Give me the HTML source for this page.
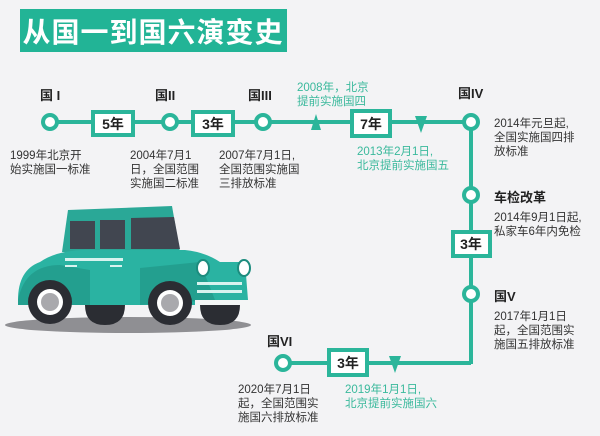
<!DOCTYPE html>
<html><head><meta charset="utf-8"><style>
body{margin:0;background:#f3f3f5;}
svg{display:block}
text{font-family:"Liberation Sans","Noto Sans CJK SC",sans-serif;}
</style></head><body>
<svg width="600" height="436" viewBox="0 0 600 436" xmlns="http://www.w3.org/2000/svg">
<rect width="600" height="436" fill="#f3f3f5"/>
<rect x="20" y="9" width="267" height="43" fill="#22b496"/>
<text x="153" y="42" font-size="28" font-weight="bold" fill="#fff" text-anchor="middle" letter-spacing="1">从国一到国六演变史</text>

<g stroke="#2bb59a" stroke-width="4" fill="none">
<line x1="50" y1="122" x2="471" y2="122"/>
<line x1="471" y1="122" x2="471" y2="364"/>
<line x1="283" y1="363" x2="471" y2="363"/>
</g>
<g stroke="#2bb59a" stroke-width="4" fill="#fff">
<circle cx="50" cy="122" r="7"/><circle cx="170" cy="122" r="7"/><circle cx="263" cy="122" r="7"/><circle cx="471" cy="122" r="7"/>
<circle cx="471" cy="195" r="7"/><circle cx="471" cy="294" r="7"/><circle cx="283" cy="363" r="7"/>
<rect x="93" y="112" width="40" height="23"/>
<rect x="193" y="112" width="40" height="23"/>
<rect x="352" y="111" width="38" height="25"/>
<rect x="453" y="232" width="37" height="24"/>
<rect x="329" y="350" width="38" height="25"/>
</g>
<g font-size="14" font-weight="bold" fill="#222" text-anchor="middle">
<text x="113" y="129">5年</text><text x="213" y="129">3年</text><text x="371" y="129">7年</text>
<text x="471" y="249">3年</text><text x="348" y="368">3年</text>
</g>
<polygon points="316,114 321,130 311,130" fill="#2bb59a"/>
<polygon points="310,121 322,121 316,128" fill="#2bb59a"/>
<polygon points="415,116 427,116 421,133" fill="#2bb59a"/>
<polygon points="389,356 401,356 395,373" fill="#2bb59a"/>

<g font-size="13" font-weight="bold" fill="#222">
<text x="40" y="100">国 I</text><text x="155" y="100">国II</text><text x="248" y="100">国III</text>
<text x="458" y="98">国IV</text><text x="494" y="202">车检改革</text><text x="494" y="301">国V</text>
<text x="267" y="346">国VI</text>
</g>
<g font-size="11.5" fill="#333">
<text x="10" y="159">1999年北京开</text><text x="10" y="173">始实施国一标准</text>
<text x="130" y="159">2004年7月1</text><text x="130" y="173">日，全国范围</text><text x="130" y="187">实施国二标准</text>
<text x="219" y="159">2007年7月1日,</text><text x="219" y="173">全国范围实施国</text><text x="219" y="187">三排放标准</text>
<text x="494" y="127">2014年元旦起,</text><text x="494" y="141">全国实施国四排</text><text x="494" y="155">放标准</text>
<text x="494" y="221">2014年9月1日起,</text><text x="494" y="235">私家车6年内免检</text>
<text x="494" y="320">2017年1月1日</text><text x="494" y="334">起，全国范围实</text><text x="494" y="348">施国五排放标准</text>
<text x="238" y="393">2020年7月1日</text><text x="238" y="407">起，全国范围实</text><text x="238" y="421">施国六排放标准</text>
</g>
<g font-size="11.5" fill="#3ab99c">
<text x="297" y="91">2008年，北京</text><text x="297" y="105">提前实施国四</text>
<text x="357" y="155">2013年2月1日,</text><text x="357" y="169">北京提前实施国五</text>
<text x="345" y="393">2019年1月1日,</text><text x="345" y="407">北京提前实施国六</text>
</g>

<!-- car -->
<ellipse cx="128" cy="325" rx="123" ry="8" fill="#8f8f93"/>
<path d="M68,210 L172,206 L180,252 L62,252 Z" fill="#2aa897"/>
<rect x="70" y="221" width="25" height="28" fill="#414650"/>
<rect x="100" y="220" width="25" height="29" fill="#414650"/>
<path d="M131,218 L174,217 L180,249 L131,249 Z" fill="#414650"/>
<path d="M40,262 Q60,248 100,250 L185,250 Q205,252 220,262 L245,262 L248,300 L195,305 L50,305 L18,300 Q18,270 40,262 Z" fill="#2ab3a2"/>
<path d="M18,300 Q25,265 60,265 L90,270 L90,305 L18,305 Z" fill="#239f8f"/>
<path d="M140,268 L200,262 L215,300 L140,305 Z" fill="#239f8f"/>
<rect x="195" y="300" width="55" height="10" fill="#f4f7f6"/>
<rect x="65" y="258" width="58" height="3" fill="#d8f3ef"/><rect x="65" y="265" width="12" height="2" fill="#d8f3ef"/><rect x="110" y="265" width="12" height="2" fill="#d8f3ef"/>
<rect x="197" y="282" width="45" height="3" fill="#d8f3ef"/><rect x="197" y="290" width="45" height="3" fill="#d8f3ef"/>
<ellipse cx="203" cy="268" rx="6" ry="8" fill="#fff" stroke="#1c8c7e" stroke-width="2"/>
<ellipse cx="244" cy="268" rx="6" ry="8" fill="#fff" stroke="#1c8c7e" stroke-width="2"/>
<path d="M85,305 L125,305 Q125,325 105,325 Q85,325 85,305Z" fill="#2b2d33"/>
<path d="M200,305 L240,305 Q240,325 220,325 Q200,325 200,305Z" fill="#2b2d33"/>
<circle cx="50" cy="302" r="22" fill="#2b2d33"/><circle cx="50" cy="302" r="13" fill="#fff"/><circle cx="50" cy="302" r="9" fill="#a9a9ad"/>
<circle cx="170" cy="303" r="22" fill="#2b2d33"/><circle cx="170" cy="303" r="13" fill="#fff"/><circle cx="170" cy="303" r="9" fill="#a9a9ad"/>
</svg>
</body></html>
